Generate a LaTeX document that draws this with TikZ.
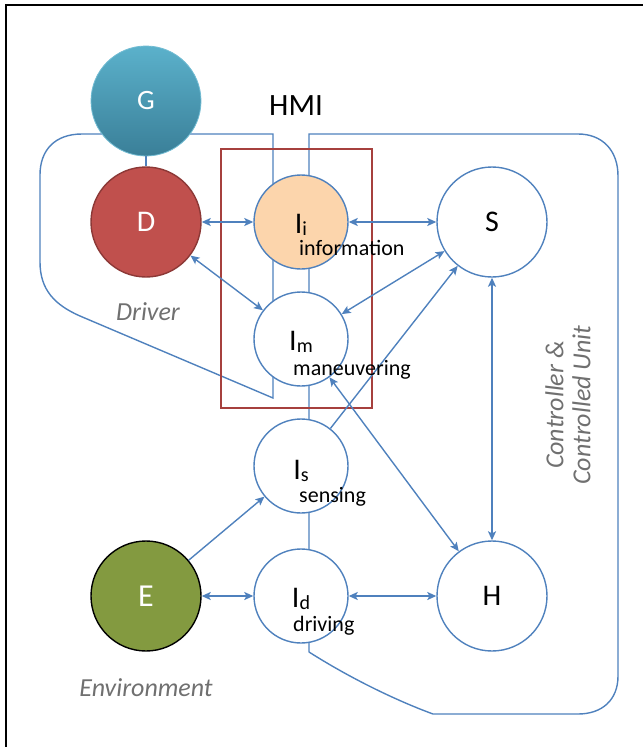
\documentclass[tikz,border=0pt]{standalone}
\usepackage{fontspec}
\setmainfont{Carlito}
\usetikzlibrary{arrows.meta}
\definecolor{lineblue}{HTML}{4F81BD}
\definecolor{dfill}{HTML}{C0504D}
\definecolor{ddraw}{HTML}{8C3836}
\definecolor{gtop}{HTML}{5BB1CB}
\definecolor{gbot}{HTML}{3A7F98}
\definecolor{gdraw}{HTML}{72BCD3}
\definecolor{ifill}{HTML}{FCD5AC}
\definecolor{efill}{HTML}{839A40}
\definecolor{hmired}{HTML}{A6403D}
\definecolor{labgray}{HTML}{707070}
\newcommand{\isub}[1]{\raisebox{-2pt}{\fontsize{20}{20}\selectfont #1}}
\tikzset{
  tip/.tip={Stealth[length=9pt,width=8pt,inset=2pt]},
  conn/.style={draw=lineblue, line width=1.4pt},
  arr/.style={conn, {tip}-{tip}},
  arrto/.style={conn, -{tip}},
  bigcirc/.style={circle, inner sep=0pt, minimum size=110pt, line width=1.4pt, font=\fontsize{30}{30}\selectfont},
  smallcirc/.style={circle, inner sep=0pt, minimum size=94pt, draw=lineblue, line width=1.4pt, fill=white},
  mainlab/.style={anchor=base, inner sep=0pt, font=\fontsize{30}{30}\selectfont},
  sublab/.style={anchor=base west, inner sep=0pt, font=\fontsize{22}{22}\selectfont},
  graylab/.style={text=labgray, inner sep=0pt, font=\fontsize{26}{27}\selectfont\itshape}
}
\begin{document}
\begin{tikzpicture}[x=1pt,y=-1pt]
\useasboundingbox (0,0) rectangle (643,747);
% frame
\draw[black, line width=1.2pt] (6,747) -- (6,5) -- (643,5);
% driver boundary
\draw[conn] (273,398) -- (80,316) .. controls (55,305) and (40,290) .. (40,262)
  -- (40,175) .. controls (40,150) and (55,134) .. (82,134) -- (273,134) -- cycle;
% controller boundary
\draw[conn] (309,652) -- (309,134) -- (578,134) .. controls (602,134) and (618,150) .. (618,176)
  -- (618,676) .. controls (618,700) and (602,714) .. (578,714) -- (433,714)
  .. controls (395,700) and (350,678) .. (309,652);
% HMI box
\draw[hmired, line width=1.4pt] (221,149) rectangle (372,408);
\node[font=\fontsize{31}{31}\selectfont, anchor=base, inner sep=0pt] (hmi) at (296,115) {HMI};
% circles
\node[bigcirc, top color=gtop, bottom color=gbot, draw=gdraw, line width=0.8pt, text=white, font=\fontsize{28}{28}\selectfont] (G) at (146,101) {G};
\node[bigcirc, fill=dfill, draw=ddraw, text=white] (D) at (146,222) {D};
\node[bigcirc, fill=efill, draw=black, text=white, font=\fontsize{32}{32}\selectfont] (E) at (146,596) {E};
\node[bigcirc, fill=white, draw=lineblue] (S) at (492,222) {S};
\node[bigcirc, fill=white, draw=lineblue] (H) at (492,596) {H};
\node[smallcirc, fill=ifill] (Ii) at (301,222) {};
\node[smallcirc] (Im) at (301,339) {};
\node[smallcirc] (Is) at (301,466) {};
\node[smallcirc] (Id) at (301,596) {};
\draw[conn] (G) -- (D);
% arrows
\draw[arr] (D) -- (Ii);
\draw[arr] (D) -- (Im);
\draw[arr] (Ii) -- (S);
\draw[arr] (Im) -- (S);
\draw[arrto] (Is) -- (S);
\draw[arr] (Im) -- (H);
\draw[arr] (S) -- (H);
\draw[arrto] (E) -- (Is);
\draw[arr] (E) -- (Id);
\draw[arr] (Id) -- (H);
% labels
\node[mainlab] (Iil) at (301,233) {I\isub{i}};
\node[mainlab] (Iml) at (301,350) {I\isub{m}};
\node[mainlab] (Isl) at (301,479) {I\isub{s}};
\node[mainlab] (Idl) at (301,607) {I\isub{d}};
\node[sublab] (Iis) at (299,255) {information};
\node[sublab] (Ims) at (293,375) {maneuvering};
\node[sublab] (Iss) at (299,502) {sensing};
\node[sublab] (Ids) at (293,631) {driving};
\node[graylab, anchor=base] (drv) at (148,320) {Driver};
\node[graylab, anchor=base] (env) at (146,696) {Environment};
\node[graylab, rotate=90, align=center] (ctl) at (568,405) {Controller \&\\Controlled Unit};
\end{tikzpicture}
\end{document}
